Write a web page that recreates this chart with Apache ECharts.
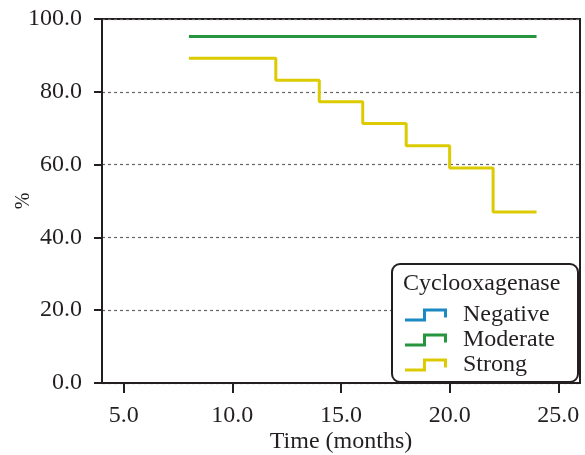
<!DOCTYPE html>
<html>
<head>
<meta charset="utf-8">
<script src="https://cdn.jsdelivr.net/npm/echarts@6/dist/echarts.min.js"></script>
<style>
  html, body { margin: 0; padding: 0; background: #fff; }
  #chart { width: 585px; height: 455px; }
</style>
</head>
<body>
<div id="chart"></div>
<script>
// Kaplan-Meier style step curves
const negativeTime = []
const negativePct = []
const moderateTime = [8, 24]
const moderatePct = [95.2, 95.2]
const strongTime = [8, 12, 14, 16, 18, 20, 22, 24]
const strongPct = [89.2, 83.2, 77.3, 71.3, 65.2, 59.1, 47.0, 47.0]
const xTicks = [5, 10, 15, 20, 25]

const FONT = 'Liberation Serif'
const FS = 24
const AXIS = '#231f20'
const stepIcon = 'path://M0,10 L18,10 L18,0 L42,0 L42,9 L39,9 L39,3 L21,3 L21,13 L0,13 Z'

const pairs = (xs, ys) => xs.map((x, i) => [x, ys[i]])

const chart = echarts.init(document.getElementById('chart'))

const option = {
  animation: false,
  textStyle: { fontFamily: FONT },
  grid: {
    left: 102, right: 5, top: 19, bottom: 72,
    outerBoundsMode: 'none',
    containLabel: false,
    show: true,
    borderColor: AXIS,
    borderWidth: 2
  },
  xAxis: {
    type: 'value',
    min: 4,
    max: 26,
    name: 'Time (months)',
    nameLocation: 'middle',
    nameGap: 47,
    nameMoveOverlap: false,
    nameTextStyle: { fontFamily: FONT, fontSize: FS, color: AXIS },
    axisLine: { lineStyle: { color: AXIS, width: 2 } },
    axisTick: { show: true, length: 10, lineStyle: { color: AXIS, width: 2 }, customValues: xTicks },
    axisLabel: {
      fontFamily: FONT, fontSize: FS, color: AXIS, margin: 21,
      customValues: xTicks,
      formatter: v => v.toFixed(1)
    },
    splitLine: { show: false }
  },
  yAxis: {
    type: 'value',
    min: 0,
    max: 100,
    interval: 20,
    name: '%',
    nameLocation: 'middle',
    nameGap: 68,
    nameRotate: 90,
    nameMoveOverlap: false,
    nameTextStyle: { fontFamily: FONT, fontSize: 20, color: AXIS },
    axisLine: { show: true, lineStyle: { color: AXIS, width: 2 } },
    axisTick: { show: true, inside: false, length: 8, lineStyle: { color: AXIS, width: 2 } },
    axisLabel: {
      fontFamily: FONT, fontSize: FS, color: AXIS, margin: 20,
      formatter: v => v.toFixed(1)
    },
    splitLine: { show: true, lineStyle: { color: '#666', type: [3, 3], width: 1.2 } }
  },
  legend: {
    orient: 'vertical',
    left: 405,
    top: 303,
    padding: 0,
    z: 10,
    itemWidth: 42,
    itemHeight: 13,
    itemGap: 1,
    selectedMode: false,
    icon: stepIcon,
    textStyle: { fontFamily: FONT, fontSize: FS, color: AXIS, lineHeight: 22, padding: [0, 0, 0, 11] },
    data: ['Negative', 'Moderate', 'Strong']
  },
  graphic: [
    {
      type: 'rect',
      shape: { x: 392, y: 264, width: 186, height: 118, r: 8 },
      style: { fill: '#fff', stroke: AXIS, lineWidth: 2 },
      z: 5
    },
    {
      type: 'text',
      left: 403,
      top: 272,
      style: { text: 'Cyclooxagenase', font: FS + 'px "Liberation Serif"', fill: AXIS },
      z: 6
    }
  ],
  series: [
    {
      name: 'Negative', type: 'line', step: 'end', showSymbol: false,
      color: '#1b8ac3', lineStyle: { width: 3 },
      data: pairs(negativeTime, negativePct)
    },
    {
      name: 'Moderate', type: 'line', step: 'end', showSymbol: false,
      color: '#27953f', lineStyle: { width: 3 },
      data: pairs(moderateTime, moderatePct)
    },
    {
      name: 'Strong', type: 'line', step: 'end', showSymbol: false,
      color: '#dccb00', lineStyle: { width: 3 },
      data: pairs(strongTime, strongPct)
    }
  ]
}

chart.setOption(option)
</script>
</body>
</html>
